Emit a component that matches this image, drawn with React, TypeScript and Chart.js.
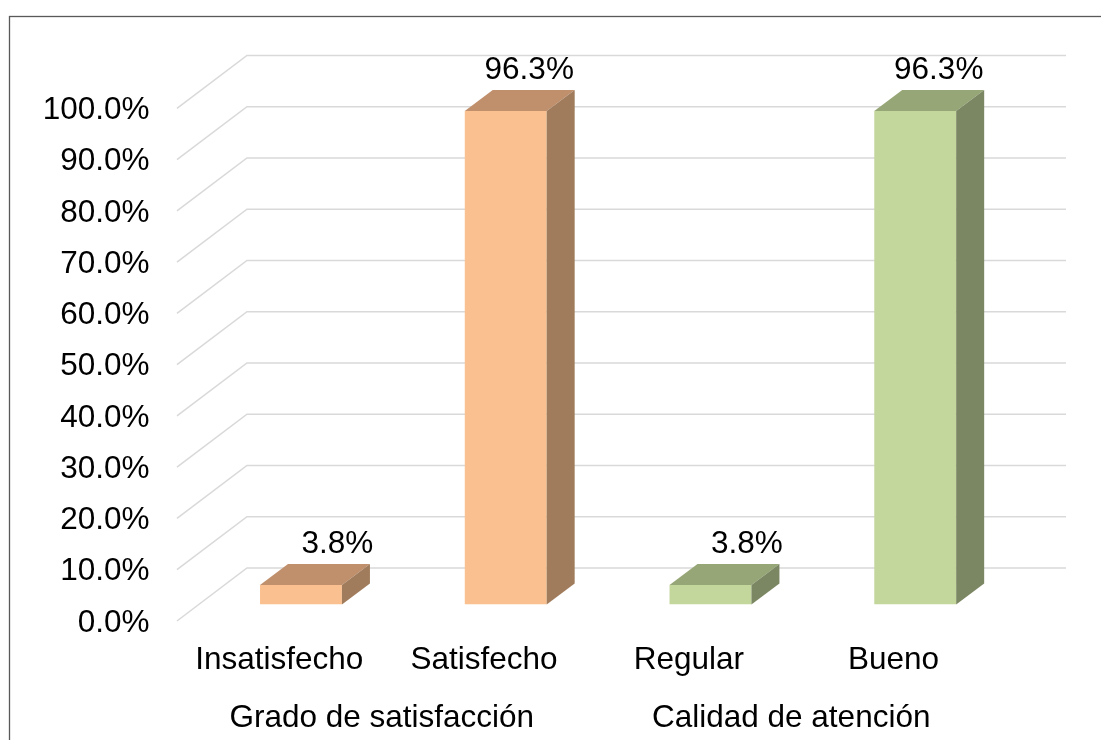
import { useEffect, useRef } from "react";
import { Chart, registerables } from "chart.js";

Chart.register(...registerables);

// ---- data ----
const categories = ["Insatisfecho", "Satisfecho", "Regular", "Bueno"];
const values = [3.8, 96.3, 3.8, 96.3];
const groups = ["Grado de satisfacción", "Calidad de atención"];
const groupSizes = [2, 2];
const yMin = 0;
const yMax = 100;
const yStep = 10;

// ---- styles ----
const FONT = '"Liberation Sans", Arial, sans-serif';
const FONT_SIZE = 31.5;
const TEXT = "#000000";
const GRID = "#D9D9D9";
// shades per group: front, top, side
const groupShades = [
  { front: "#FAC090", top: "#C08F6C", side: "#A07C5C" },
  { front: "#C3D69B", top: "#96A676", side: "#7B8762" },
];

// floor depth of the 3D box (px) and where the bars stand inside it
const DEPTH_X = 70;
const DEPTH_Y = -53;
const BAR_PLANE = 0.309;
// depth of each column
const BAR_DX = 28;
const BAR_DY = -21;

const shadeFor = (index: number) => {
  let acc = 0;
  for (let g = 0; g < groupSizes.length; g++) {
    acc += groupSizes[g];
    if (index < acc) return groupShades[g];
  }
  return groupShades[groupShades.length - 1];
};

const X_LABEL_OFFSET = -DEPTH_X * BAR_PLANE;
const Y_LABEL_OFFSET = -DEPTH_Y * BAR_PLANE + 2;

const box3d = {
  id: "box3d",
  beforeDraw(chart: any) {
    const { ctx, width, height } = chart;
    ctx.save();
    ctx.fillStyle = "#ffffff";
    ctx.fillRect(0, 0, width, height);
    ctx.strokeStyle = "#595959";
    ctx.lineWidth = 1.3;
    ctx.strokeRect(9.5, 16.5, width + 100, height + 100);
    ctx.restore();
  },
  beforeDatasetsDraw(chart: any) {
    const { ctx, chartArea } = chart;
    const y = chart.scales.y;
    const fx = -DEPTH_X * BAR_PLANE;
    const fy = -DEPTH_Y * BAR_PLANE;
    const bx = DEPTH_X * (1 - BAR_PLANE);
    const by = DEPTH_Y * (1 - BAR_PLANE);
    ctx.save();
    ctx.strokeStyle = GRID;
    ctx.lineWidth = 1.5;
    y.ticks.forEach((t: any) => {
      const py = y.getPixelForValue(t.value);
      ctx.beginPath();
      ctx.moveTo(chartArea.left + fx, py + fy);
      ctx.lineTo(chartArea.left + bx, py + by);
      ctx.lineTo(chartArea.right + bx, py + by);
      ctx.stroke();
    });
    ctx.restore();
  },
  afterDatasetsDraw(chart: any) {
    const { ctx } = chart;
    const meta = chart.getDatasetMeta(0);
    ctx.save();
    meta.data.forEach((bar: any, i: number) => {
      const { x, y, base, width } = bar.getProps(["x", "y", "base", "width"], true);
      const l = x - width / 2;
      const r = x + width / 2;
      const shade = shadeFor(i);
      // top face
      ctx.fillStyle = shade.top;
      ctx.beginPath();
      ctx.moveTo(l, y);
      ctx.lineTo(l + BAR_DX, y + BAR_DY);
      ctx.lineTo(r + BAR_DX, y + BAR_DY);
      ctx.lineTo(r, y);
      ctx.closePath();
      ctx.fill();
      // side face
      ctx.fillStyle = shade.side;
      ctx.beginPath();
      ctx.moveTo(r, y);
      ctx.lineTo(r + BAR_DX, y + BAR_DY);
      ctx.lineTo(r + BAR_DX, base + BAR_DY);
      ctx.lineTo(r, base);
      ctx.closePath();
      ctx.fill();
      // value label, nudged right less for taller columns (perspective)
      const lift = (base - y) / (base - chart.chartArea.top);
      ctx.fillStyle = TEXT;
      ctx.font = `${FONT_SIZE}px ${FONT}`;
      ctx.textAlign = "center";
      ctx.textBaseline = "middle";
      ctx.fillText(`${values[i].toFixed(1)}%`, x + 37 - 14 * lift, y + BAR_DY - 20);
    });

    // group captions under the category labels
    const xs = chart.scales.x;
    let start = 0;
    groups.forEach((name, g) => {
      const n = groupSizes[g];
      let sum = 0;
      for (let k = start; k < start + n; k++) sum += xs.getPixelForValue(k);
      const cx = sum / n + X_LABEL_OFFSET;
      ctx.fillStyle = TEXT;
      ctx.font = `${FONT_SIZE}px ${FONT}`;
      ctx.textAlign = "center";
      ctx.textBaseline = "middle";
      ctx.fillText(name, cx, xs.top + 113.4);
      start += n;
    });
    ctx.restore();
  },
};

export default function App() {
  const ref = useRef<HTMLCanvasElement>(null);

  useEffect(() => {
    if (!ref.current) return;
    const chart = new Chart(ref.current, {
      type: "bar",
      data: {
        labels: categories,
        datasets: [
          {
            data: values,
            backgroundColor: values.map((_, i) => shadeFor(i).front),
            borderWidth: 0,
            barPercentage: 0.4,
            categoryPercentage: 1,
          },
        ],
      },
      options: {
        responsive: false,
        animation: false,
        layout: { padding: { left: 3.6, right: 83.4, top: 92, bottom: 35.4 } },
        plugins: {
          legend: { display: false },
          tooltip: { enabled: false },
        },
        scales: {
          x: {
            grid: { display: false, drawTicks: false },
            border: { display: false },
            ticks: {
              color: TEXT,
              font: { family: FONT, size: FONT_SIZE, lineHeight: 1.2 },
              padding: 37,
              labelOffset: X_LABEL_OFFSET,
              maxRotation: 0,
              minRotation: 0,
              autoSkip: false,
            },
            afterFit: (s: any) => {
              s.height = 100;
            },
          },
          y: {
            min: yMin,
            max: yMax,
            grid: { display: false, drawTicks: false },
            border: { display: false },
            ticks: {
              stepSize: yStep,
              color: TEXT,
              font: { family: FONT, size: FONT_SIZE, lineHeight: 1.2 },
              padding: 49,
              labelOffset: Y_LABEL_OFFSET,
              callback: (v: any) => `${Number(v).toFixed(1)}%`,
            },
            afterFit: (s: any) => {
              s.width = 195;
            },
          },
        },
      },
      plugins: [box3d],
    });
    return () => chart.destroy();
  }, []);

  return (
    <div
      style={{
        position: "fixed",
        left: 0,
        top: 0,
        width: 1101,
        height: 740,
        background: "#ffffff",
        overflow: "hidden",
      }}
    >
      <canvas ref={ref} width={1101} height={740} style={{ display: "block" }} />
    </div>
  );
}
